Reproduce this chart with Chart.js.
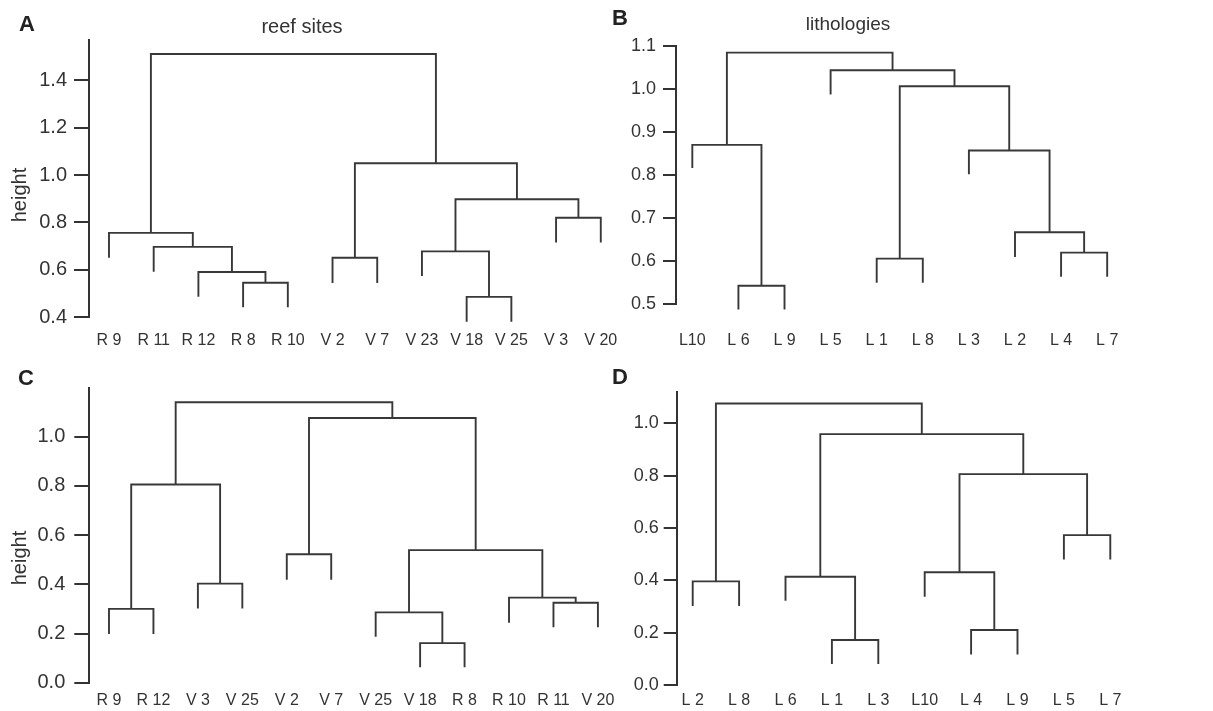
<!DOCTYPE html>
<html><head><meta charset="utf-8">
<script src="https://cdn.jsdelivr.net/npm/chart.js@4.4.0/dist/chart.umd.min.js"></script>
<style>
html,body{margin:0;padding:0;background:#fff;}
body{width:1213px;height:711px;position:relative;overflow:hidden;font-family:"Liberation Sans",Arial,sans-serif;color:#333;}
canvas{position:absolute;}
.txt{position:absolute;white-space:nowrap;transform:translate(-50%,-50%);line-height:1;}
.letter{font-weight:bold;font-size:22px;color:#222;}
.ylab{transform:translate(-50%,-50%) rotate(-90deg);font-size:20px;}
</style></head><body>
<canvas id="cA" width="640" height="360" style="left:0;top:0"></canvas>
<canvas id="cB" width="633" height="360" style="left:580px;top:0"></canvas>
<canvas id="cC" width="640" height="351" style="left:0;top:360px"></canvas>
<canvas id="cD" width="633" height="351" style="left:580px;top:360px"></canvas>
<div class="txt letter" style="left:27px;top:24px">A</div>
<div class="txt letter" style="left:620px;top:18px">B</div>
<div class="txt letter" style="left:26px;top:378px">C</div>
<div class="txt letter" style="left:620px;top:377px">D</div>
<div class="txt" style="left:302px;top:26px;font-size:20px">reef sites</div>
<div class="txt" style="left:848px;top:23px;font-size:19px">lithologies</div>
<div class="txt ylab" style="left:19px;top:195px">height</div>
<div class="txt ylab" style="left:19px;top:558px">height</div>
<script>
// ---- Panel A: reef sites ----
const labelsA = ['R 9','R 11','R 12','R 8','R 10','V 2','V 7','V 23','V 18','V 25','V 3','V 20'];
const tipsA = [0.651,0.592,0.487,0.442,0.442,0.545,0.545,0.574,0.381,0.381,0.716,0.716];
const mergesA = [[-4,-5,0.546],[-3,1,0.591],[-2,2,0.697],[-1,3,0.756],[-6,-7,0.651],[-9,-10,0.486],
                 [-8,6,0.678],[-11,-12,0.820],[7,8,0.898],[5,9,1.050],[4,10,1.511]];
const yTicksA = [0.4,0.6,0.8,1.0,1.2,1.4];

// ---- Panel B: lithologies ----
const labelsB = ['L10','L 6','L 9','L 5','L 1','L 8','L 3','L 2','L 4','L 7'];
const tipsB = [0.816,0.488,0.488,0.987,0.550,0.550,0.802,0.610,0.564,0.564];
const mergesB = [[-2,-3,0.543],[-1,1,0.870],[-5,-6,0.606],[-9,-10,0.620],[-8,4,0.667],[-7,5,0.857],
                 [3,6,1.006],[-4,7,1.043],[2,8,1.084]];
const yTicksB = [0.5,0.6,0.7,0.8,0.9,1.0,1.1];

// ---- Panel C ----
const labelsC = ['R 9','R 12','V 3','V 25','V 2','V 7','V 25','V 18','R 8','R 10','R 11','V 20'];
const tipsC = [0.198,0.198,0.302,0.302,0.419,0.419,0.187,0.063,0.063,0.244,0.225,0.225];
const mergesC = [[-1,-2,0.300],[-3,-4,0.403],[1,2,0.806],[-5,-6,0.522],[-8,-9,0.161],[-7,5,0.286],
                 [-11,-12,0.325],[-10,7,0.346],[6,8,0.539],[4,9,1.076],[3,10,1.140]];
const yTicksC = [0.0,0.2,0.4,0.6,0.8,1.0];

// ---- Panel D ----
const labelsD = ['L 2','L 8','L 6','L 1','L 3','L10','L 4','L 9','L 5','L 7'];
const tipsD = [0.302,0.302,0.322,0.080,0.080,0.337,0.117,0.117,0.480,0.480];
const mergesD = [[-1,-2,0.396],[-4,-5,0.172],[-3,2,0.414],[-7,-8,0.210],[-6,4,0.431],[-9,-10,0.573],
                 [5,6,0.806],[3,7,0.959],[1,8,1.076]];
const yTicksD = [0.0,0.2,0.4,0.6,0.8,1.0];

const FONT = '"Liberation Sans", Arial, sans-serif';

function segments(tips, merges) {
  const nodeX = [], nodeH = [];
  const pos = r => r < 0 ? {x: -r - 1, y: tips[-r - 1]} : {x: nodeX[r - 1], y: nodeH[r - 1]};
  return merges.map(([a, b, h]) => {
    const pa = pos(a), pb = pos(b);
    nodeX.push((pa.x + pb.x) / 2); nodeH.push(h);
    return [{x: pa.x, y: pa.y}, {x: pa.x, y: h}, {x: pb.x, y: h}, {x: pb.x, y: pb.y}];
  });
}

function makeChart(id, labels, tips, merges, yTicks, c) {
  const segs = segments(tips, merges);
  new Chart(document.getElementById(id), {
    type: 'scatter',
    data: {datasets: segs.map(s => ({
      data: s, showLine: true, borderColor: '#383838', borderWidth: 1.9,
      pointRadius: 0, pointHoverRadius: 0, clip: false, tension: 0, fill: false
    }))},
    options: {
      responsive: false, animation: false, events: [],
      layout: {padding: {left: c.padL, top: c.padT, right: c.padR, bottom: c.padB}},
      plugins: {legend: {display: false}, tooltip: {enabled: false}, title: {display: false}},
      scales: {
        x: {
          type: 'linear', min: c.xmin, max: c.xmax,
          border: {display: false}, grid: {display: false, drawTicks: false, tickLength: 0},
          afterBuildTicks: s => { s.ticks = labels.map((_, i) => ({value: i})); },
          afterFit: s => { s.height = c.xAxisH; },
          ticks: {autoSkip: false, maxRotation: 0, minRotation: 0, padding: c.xPad, color: '#333',
                  font: {family: FONT, size: c.xFont}, callback: v => labels[Math.round(v)]}
        },
        y: {
          type: 'linear', min: c.ymin, max: c.ymax,
          border: {display: true, color: '#333', width: 2},
          grid: {display: true, drawOnChartArea: false, drawTicks: true, tickLength: c.tickLen,
                 color: '#333', lineWidth: 2},
          afterBuildTicks: s => { s.ticks = yTicks.map(v => ({value: v})); },
          afterFit: s => { s.width = 80; },
          ticks: {padding: c.tickPad, color: '#333', font: {family: FONT, size: c.yFont},
                  callback: v => Number(v).toFixed(1)}
        }
      }
    }
  });
}

makeChart('cA', labelsA, tipsA, mergesA, yTicksA,
  {padL: 9, padT: 40, padR: 20, padB: 12.7, xAxisH: 30, xPad: 14, xFont: 16,
   xmin: -0.447, xmax: 11.43, ymin: 0.4, ymax: 1.57, yFont: 20, tickLen: 15, tickPad: 7});
makeChart('cB', labelsB, tipsB, mergesB, yTicksB,
  {padL: 16, padT: 45.7, padR: 89.5, padB: 10.7, xAxisH: 45, xPad: 27, xFont: 16,
   xmin: -0.354, xmax: 9.354, ymin: 0.5, ymax: 1.1, yFont: 18, tickLen: 13, tickPad: 7});
makeChart('cC', labelsC, tipsC, mergesC, yTicksC,
  {padL: 9.3, padT: 28.3, padR: 22.4, padB: 3.3, xAxisH: 25, xPad: 8, xFont: 16,
   xmin: -0.443, xmax: 11.443, ymin: 0, ymax: 1.197, yFont: 20, tickLen: 15, tickPad: 9});
makeChart('cD', labelsD, tipsD, mergesD, yTicksD,
  {padL: 16.7, padT: 31.7, padR: 86.7, padB: 3, xAxisH: 23, xPad: 6, xFont: 16,
   xmin: -0.345, xmax: 9.345, ymin: 0, ymax: 1.121, yFont: 18, tickLen: 13, tickPad: 5});
</script>
</body></html>
